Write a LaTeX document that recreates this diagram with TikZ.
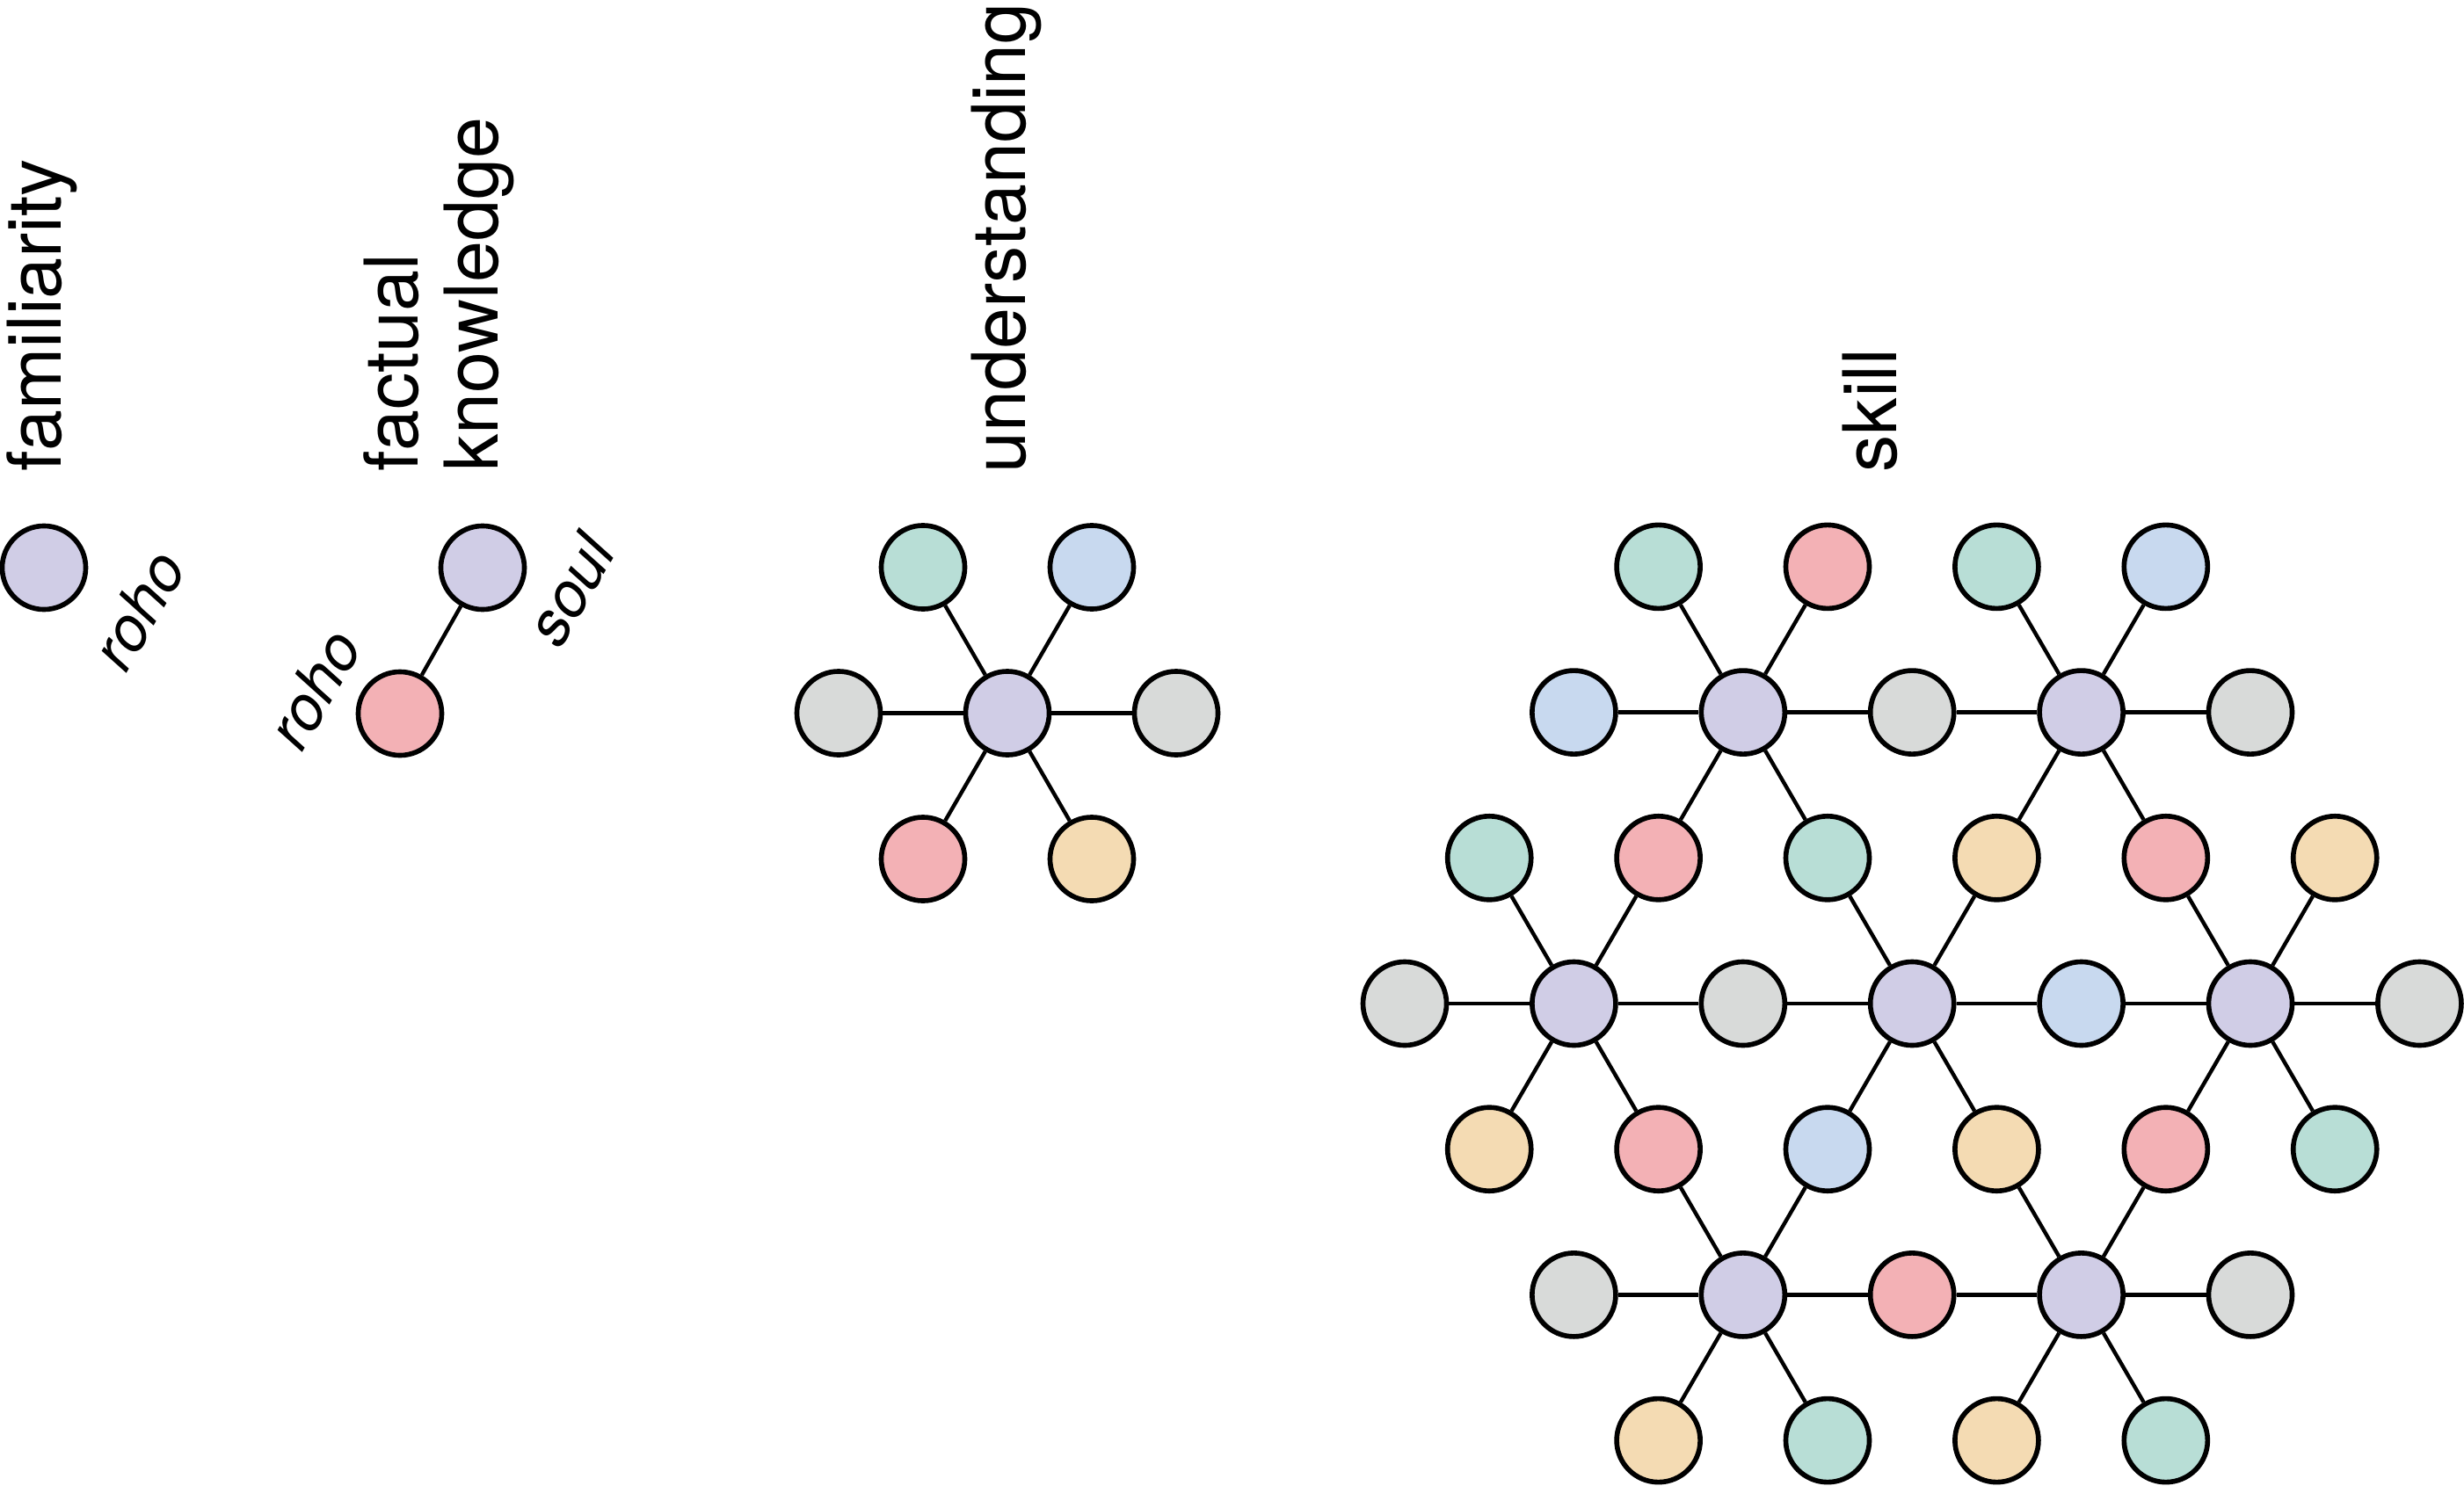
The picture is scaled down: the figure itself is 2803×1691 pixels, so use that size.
\documentclass[tikz,border=0pt]{standalone}
\usepackage{fontspec}
\setmainfont{TeX Gyre Heros}
\definecolor{cpur}{HTML}{D0CDE6}
\definecolor{cpnk}{HTML}{F3B1B5}
\definecolor{cgrn}{HTML}{B8DED6}
\definecolor{cblu}{HTML}{C8D9EF}
\definecolor{cgry}{HTML}{D8DAD9}
\definecolor{corg}{HTML}{F4DBB3}
\tikzset{
  dot/.style={circle, draw=black, line width=1.6pt, minimum size=0.95cm, inner sep=0pt},
  edge/.style={line width=1.25pt, black},
  title/.style={rotate=90, anchor=base west, inner sep=0pt, font=\fontsize{24}{28}\selectfont},
  lab/.style={rotate=60, inner sep=0pt, font=\fontsize{20}{24}\selectfont\itshape}
}
\begin{document}
\begin{tikzpicture}[x=0.01cm, y=-0.01cm]
\useasboundingbox (0,0) rectangle (2803,1691);
% titles
\node[title] (tfam) at (70,537) {familiarity};
\node[title] (tfac) at (475,537) {factual};
\node[title] (tkno) at (566,537) {knowledge};
\node[title] (tund) at (1166,539) {understanding};
\node[title] (tski) at (2157,538) {skill};
% familiarity
\node[dot, fill=cpur] (f1) at (50,646) {};
\node[lab] (lf1) at (157,694) {roho};
% factual knowledge
\node[dot, fill=cpur] (k1) at (549,646) {};
\node[dot, fill=cpnk] (k2) at (455,812) {};
\draw[edge] (k1) -- (k2);
\node[lab] (lk2) at (357,784) {roho};
\node[lab] (lk1) at (648,671) {soul};
% understanding
\node[dot, fill=cpur] (u0) at (1146,811.5) {};
\node[dot, fill=cgrn] (u1) at (1050,645.5) {};
\node[dot, fill=cblu] (u2) at (1242,645.5) {};
\node[dot, fill=cgry] (u3) at (954,811.5) {};
\node[dot, fill=cgry] (u4) at (1338,811.5) {};
\node[dot, fill=cpnk] (u5) at (1050,977.5) {};
\node[dot, fill=corg] (u6) at (1242,977.5) {};
\foreach \k in {1,...,6} \draw[edge] (u0) -- (u\k);
% skill lattice: s<i>-<r>, x = 1598 + i*96.2, y = 1142 + (r-3)*165.7
\foreach \i/\r/\c in {
  3/0/cgrn, 5/0/cpnk, 7/0/cgrn, 9/0/cblu,
  2/1/cblu, 4/1/cpur, 6/1/cgry, 8/1/cpur, 10/1/cgry,
  1/2/cgrn, 3/2/cpnk, 5/2/cgrn, 7/2/corg, 9/2/cpnk, 11/2/corg,
  0/3/cgry, 2/3/cpur, 4/3/cgry, 6/3/cpur, 8/3/cblu, 10/3/cpur, 12/3/cgry,
  1/4/corg, 3/4/cpnk, 5/4/cblu, 7/4/corg, 9/4/cpnk, 11/4/cgrn,
  2/5/cgry, 4/5/cpur, 6/5/cpnk, 8/5/cpur, 10/5/cgry,
  3/6/corg, 5/6/cgrn, 7/6/corg, 9/6/cgrn}
  \node[dot, fill=\c] (s\i-\r) at ({1598+\i*96.2},{1142+(\r-3)*165.7}) {};
\foreach \a/\r in {4/1, 8/1, 2/3, 6/3, 10/3, 4/5, 8/5}{
  \pgfmathtruncatemacro\al{\a-2}
  \pgfmathtruncatemacro\ar{\a+2}
  \pgfmathtruncatemacro\bl{\a-1}
  \pgfmathtruncatemacro\br{\a+1}
  \pgfmathtruncatemacro\ru{\r-1}
  \pgfmathtruncatemacro\rd{\r+1}
  \draw[edge] (s\a-\r) -- (s\al-\r);
  \draw[edge] (s\a-\r) -- (s\ar-\r);
  \draw[edge] (s\a-\r) -- (s\bl-\ru);
  \draw[edge] (s\a-\r) -- (s\br-\ru);
  \draw[edge] (s\a-\r) -- (s\bl-\rd);
  \draw[edge] (s\a-\r) -- (s\br-\rd);
}
\end{tikzpicture}
\end{document}
